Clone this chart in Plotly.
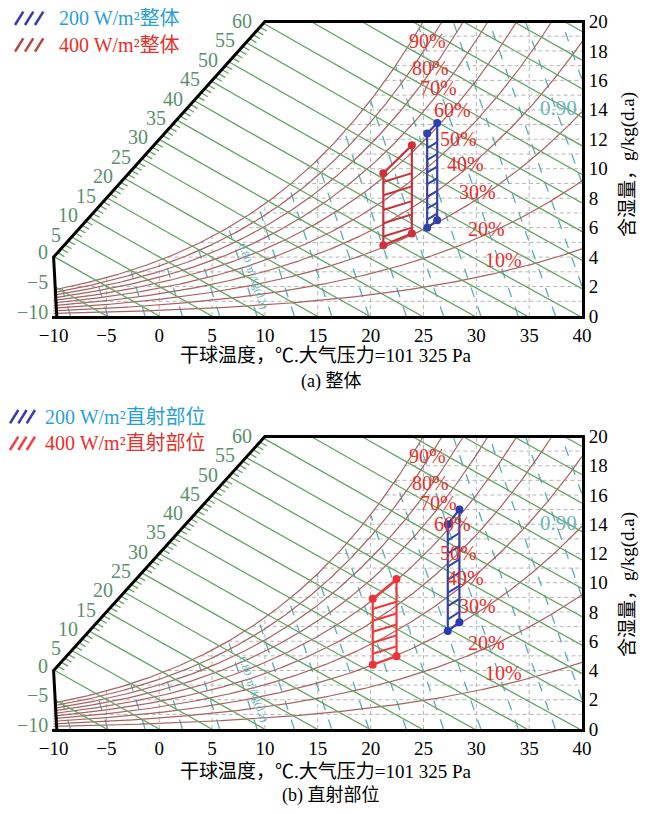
import numpy as np
import plotly.graph_objects as go

P_ATM = 101325.0

# ---------------- data ----------------
x_tick_vals = [-10, -5, 0, 5, 10, 15, 20, 25, 30, 35, 40]
x_tick_text = ["−10", "−5", "0", "5", "10", "15", "20", "25", "30", "35", "40"]
y_tick_vals = [0, 2, 4, 6, 8, 10, 12, 14, 16, 18, 20]

rh_levels = [0.1, 0.2, 0.3, 0.4, 0.5, 0.6, 0.7, 0.8, 0.9, 1.0]
rh_label_text = ["10%", "20%", "30%", "40%", "50%", "60%", "70%", "80%", "90%"]
rh_label_t = [32.6, 31.0, 30.1, 29.0, 28.3, 27.7, 26.4, 25.7, 25.35]
rh_label_w = [3.8, 5.9, 8.4, 10.3, 12.0, 14.0, 15.45, 16.85, 18.65]

enthalpy_levels = [-10, -5, 0, 5, 10, 15, 20, 25, 30, 35, 40, 45, 50, 55, 60,
                   65, 70, 75, 80, 85, 90]
enthalpy_label_levels = [-10, -5, 0, 5, 10, 15, 20, 25, 30, 35, 40, 45, 50, 55, 60]
enthalpy_minor_levels = list(range(0, 61))

volume_levels = [0.75, 0.76, 0.77, 0.78, 0.79, 0.80, 0.81, 0.82, 0.83, 0.84,
                 0.85, 0.86, 0.87, 0.88, 0.89, 0.90, 0.91]
volume_label_text = ["0.80 m³/kg(d.a)", "0.90"]
volume_label_t = [8.9, 37.8]
volume_label_w = [2.7, 14.1]

grid_t_levels = [-5, 0, 5, 10, 15, 20, 25, 30, 35]
grid_w_levels = [1, 2, 3, 4, 5, 6, 7, 8, 9, 10, 11, 12, 13, 14, 15, 16, 17, 18, 19]

boundary_t = [-9.7, -10, 10, 40]
boundary_w = [0, 4, 20, 20]

# panel (a) 整体
a_red_t = [21.2, 23.9, 23.9, 21.2]
a_red_w = [4.8, 5.6, 11.6, 9.7]
a_red_hatch_l = [5.4, 6.3, 7.2, 8.2, 9.1]
a_red_hatch_r = [6.0, 6.9, 7.8, 8.8, 9.7]
a_blue_t = [25.35, 26.3, 26.3, 25.35]
a_blue_w = [6.0, 6.5, 13.1, 12.4]
a_blue_hatch_l = [6.55, 7.3, 8.1, 8.95, 9.75, 10.6, 11.4]
a_blue_hatch_r = [6.95, 7.7, 8.5, 9.35, 10.15, 11.0, 11.8]

# panel (b) 直射部位
b_red_t = [20.2, 22.45, 22.45, 20.2]
b_red_w = [4.4, 4.97, 10.25, 8.9]
b_red_hatch_l = [5.15, 5.9, 6.65, 7.4, 8.2]
b_red_hatch_r = [5.65, 6.4, 7.15, 7.9, 8.7]
b_blue_t = [27.3, 28.4, 28.4, 27.3]
b_blue_w = [6.7, 7.3, 15.0, 14.0]
b_blue_hatch_l = [7.5, 8.4, 9.3, 10.2, 11.1, 12.0, 12.9]
b_blue_hatch_r = [8.0, 8.9, 9.8, 10.7, 11.6, 12.5, 13.4]

legend_a = ["200 W/m²整体", "400 W/m²整体"]
legend_b = ["200 W/m²直射部位", "400 W/m²直射部位"]
xtitle = "干球温度，℃.大气压力=101 325 Pa"
ytitle = "含湿量，g/kg(d.a)"
caption_a = "(a) 整体"
caption_b = "(b) 直射部位"

# ---------------- styles ----------------
SERIF = "Liberation Serif, Times New Roman, Noto Sans CJK SC, serif"
GREEN = "#66a266"
BROWN = "#a86262"
TEAL = "#5aaeb2"
GRID = "#b5b5b5"
LBLGREEN = "#5b8f6e"
RHRED = "#e8302a"
BLUE_TXT = "#2a9fd6"

# ---------------- psychrometrics ----------------
def psat(t):
    return 611.2 * np.exp(17.62 * t / (243.12 + t))

def w_rh(t, rh):
    pw = rh * psat(t)
    return 622.0 * pw / (P_ATM - pw)

def t_of_h(h, w):
    return (h - 2.501 * w) / (1.006 + 0.00186 * w)

def w_of_h(h, t):
    return (h - 1.006 * t) / (2.501 + 0.00186 * t)

def diag_w(t):
    return 12.0 + 0.8 * t

def diag_cross(h):
    lo, hi = 0.0, 40.0
    for _ in range(80):
        mid = 0.5 * (lo + hi)
        if mid - diag_w(t_of_h(h, mid)) < 0:
            lo = mid
        else:
            hi = mid
    return 0.5 * (lo + hi)

t_fine = np.linspace(-10, 40, 1001)
wsat_fine = w_rh(t_fine, 1.0)

def t_sat(w):
    return float(np.interp(w, wsat_fine, t_fine))

def join(segs):
    xs, ys = [], []
    for sx, sy in segs:
        xs += list(sx) + [None]
        ys += list(sy) + [None]
    return xs, ys

# ---------------- figure geometry ----------------
# The page body adds an 8px margin, so the figure is drawn 8px smaller on
# every side and all reference-pixel positions are offset by 8px.
OFF = 8
W_PX, H_PX = 654 - 2 * OFF, 814 - 2 * OFF
PLOT_L, PLOT_R, PLOT_T, PLOT_B = 52, 582, 20, 729   # reference pixels
ML = PLOT_L - OFF
MR = W_PX - (PLOT_R - OFF)
MT = PLOT_T - OFF
MB = H_PX - (PLOT_B - OFF)
PW = PLOT_R - PLOT_L
PH = PLOT_B - PLOT_T

def px(xp):
    return (xp - PLOT_L) / PW

def py(yp):
    return (PLOT_B - yp) / PH

fig = go.Figure()
annotations = []
shapes = []

def panel(xa, ya, red, blue, red_edge, blue_col, red_mk, blue_mk):
    xr = "x" if xa == "xaxis" else "x2"
    yr = "y" if ya == "yaxis" else "y2"

    segs = []
    for t in grid_t_levels:
        segs.append(([t, t], [0, min(20.0, float(w_rh(t, 1.0)))]))
    for w in grid_w_levels:
        segs.append(([t_sat(w), 40], [w, w]))
    gx, gy = join(segs)
    fig.add_trace(go.Scatter(x=gx, y=gy, mode="lines", xaxis=xr, yaxis=yr,
                             line=dict(color=GRID, width=1, dash="4px,3px"),
                             hoverinfo="skip", showlegend=False))
    segs = []
    wv = np.linspace(0, 20, 400)
    for v in volume_levels:
        tv = v * P_ATM / (287.042 * (1 + 1.6078 * wv / 1000.0)) - 273.15
        m = (tv <= 40) & (tv >= -10) & (wv <= w_rh(tv, 1.0))
        if m.sum() > 1:
            segs.append((tv[m], wv[m]))
    vx, vy = join(segs)
    fig.add_trace(go.Scatter(x=vx, y=vy, mode="lines", xaxis=xr, yaxis=yr,
                             line=dict(color=TEAL, width=1.3, dash="10px,10px"),
                             hoverinfo="skip", showlegend=False))
    segs = []
    for rh in rh_levels:
        wfull = w_rh(t_fine, rh)
        tend = float(np.interp(20, wfull, t_fine)) if wfull[-1] > 20 else 40.0
        tt = np.linspace(-10, tend, 300)
        segs.append((tt, w_rh(tt, rh)))
    rx, ry = join(segs)
    fig.add_trace(go.Scatter(x=rx, y=ry, mode="lines", xaxis=xr, yaxis=yr,
                             line=dict(color=BROWN, width=1.2),
                             hoverinfo="skip", showlegend=False))
    segs = []
    for h in enthalpy_levels:
        w_lo = 0.0 if t_of_h(h, 0) <= 40 else w_of_h(h, 40)
        w_hi = min(20.0, w_of_h(h, -10), diag_cross(h))
        ww = np.linspace(w_lo, w_hi, 12)
        segs.append((t_of_h(h, ww), ww))
    for h in enthalpy_minor_levels:
        if h % 5 == 0:
            continue
        wb = diag_cross(h)
        tb = t_of_h(h, wb)
        segs.append(([tb, tb + 0.65], [wb, w_of_h(h, tb + 0.65)]))
    ex, ey = join(segs)
    fig.add_trace(go.Scatter(x=ex, y=ey, mode="lines", xaxis=xr, yaxis=yr,
                             line=dict(color=GREEN, width=1.3),
                             hoverinfo="skip", showlegend=False))
    fig.add_trace(go.Scatter(x=boundary_t, y=boundary_w, mode="lines", xaxis=xr, yaxis=yr,
                             line=dict(color="black", width=3),
                             hoverinfo="skip", showlegend=False))
    for h in enthalpy_label_levels:
        if h <= 0:
            tb, wb = -10.0, float(w_of_h(h, -10))
            xs, ys = -4, 4
        else:
            wb = diag_cross(h)
            tb = float(t_of_h(h, wb))
            xs, ys = -9, 2
        annotations.append(dict(x=tb, y=wb, xref=xr, yref=yr, text=str(h).replace("-", "−"),
                                showarrow=False, xanchor="right", yanchor="middle",
                                xshift=xs, yshift=ys,
                                font=dict(family=SERIF, size=20, color=LBLGREEN)))
    for txt, t, w in zip(rh_label_text, rh_label_t, rh_label_w):
        annotations.append(dict(x=t, y=w, xref=xr, yref=yr, text=txt, showarrow=False,
                                xanchor="center", yanchor="middle",
                                font=dict(family=SERIF, size=20, color=RHRED)))
    annotations.append(dict(x=volume_label_t[0], y=volume_label_w[0], xref=xr, yref=yr,
                            text=volume_label_text[0], showarrow=False, textangle=71,
                            xanchor="center", yanchor="middle",
                            font=dict(family=SERIF, size=11, color=TEAL)))
    annotations.append(dict(x=volume_label_t[1], y=volume_label_w[1], xref=xr, yref=yr,
                            text=volume_label_text[1], showarrow=False,
                            xanchor="center", yanchor="middle",
                            font=dict(family=SERIF, size=21, color="#6ab6b8")))
    for (pt, pw_, hl, hr), col, mk in ((red, red_edge, red_mk), (blue, blue_col, blue_mk)):
        hx, hy = join([([pt[0], pt[1]], [a, b]) for a, b in zip(hl, hr)])
        fig.add_trace(go.Scatter(x=hx, y=hy, mode="lines", xaxis=xr, yaxis=yr,
                                 line=dict(color=col, width=2),
                                 hoverinfo="skip", showlegend=False))
        fig.add_trace(go.Scatter(x=pt + [pt[0]], y=pw_ + [pw_[0]], mode="lines", xaxis=xr, yaxis=yr,
                                 line=dict(color=col, width=2.2),
                                 hoverinfo="skip", showlegend=False))
        fig.add_trace(go.Scatter(x=pt, y=pw_, mode="markers", xaxis=xr, yaxis=yr,
                                 marker=dict(color=mk, size=8),
                                 hoverinfo="skip", showlegend=False))

panel("xaxis", "yaxis",
      (a_red_t, a_red_w, a_red_hatch_l, a_red_hatch_r),
      (a_blue_t, a_blue_w, a_blue_hatch_l, a_blue_hatch_r),
      "#c8323a", "#3442a8", "#d0303a", "#3040b0")
panel("xaxis2", "yaxis2",
      (b_red_t, b_red_w, b_red_hatch_l, b_red_hatch_r),
      (b_blue_t, b_blue_w, b_blue_hatch_l, b_blue_hatch_r),
      "#f03a3a", "#3442a8", "#f0303a", "#2a3ab0")

def legend_row(x0s, ytop, ybot, dx, col, text, tx, ty, tcol):
    for x0 in x0s:
        shapes.append(dict(type="line", xref="paper", yref="paper",
                           x0=px(x0), y0=py(ybot), x1=px(x0 + dx), y1=py(ytop),
                           line=dict(color=col, width=2.5)))
    annotations.append(dict(x=px(tx), y=py(ty), xref="paper", yref="paper", text=text,
                            showarrow=False, xanchor="left", yanchor="middle",
                            font=dict(family=SERIF, size=20, color=tcol)))

legend_row([15, 25, 35], 11.7, 25, 8.3, "#3a3aa8", legend_a[0], 57, 18, BLUE_TXT)
legend_row([15, 25, 35], 38.3, 51.7, 8.3, "#b84444", legend_a[1], 57, 45, RHRED)
legend_row([10, 18.3, 26.7], 410, 423.3, 8.3, "#3a3aa8", legend_b[0], 43, 417, BLUE_TXT)
legend_row([10, 18.3, 26.7], 436.7, 450, 8.3, "#f04040", legend_b[1], 43, 443, RHRED)

for cy, ty, cap in ((355, 381, caption_a), (772, 795, caption_b)):
    annotations.append(dict(x=px(326), y=py(cy), xref="paper", yref="paper", text=xtitle,
                            showarrow=False, xanchor="center", yanchor="middle",
                            font=dict(family=SERIF, size=19, color="black")))
    annotations.append(dict(x=px(331), y=py(ty), xref="paper", yref="paper", text=cap,
                            showarrow=False, xanchor="center", yanchor="middle",
                            font=dict(family=SERIF, size=18, color="black")))
for cy in (165, 585):
    annotations.append(dict(x=px(628), y=py(cy), xref="paper", yref="paper", text=ytitle,
                            showarrow=False, textangle=-90, xanchor="center", yanchor="middle",
                            font=dict(family=SERIF, size=19, color="black")))

xcommon = dict(range=[-10.15, 40], tickvals=x_tick_vals, ticktext=x_tick_text, ticks="",
               showgrid=False, zeroline=False, showline=True, linecolor="black", linewidth=3,
               automargin=False,
               tickfont=dict(family=SERIF, size=19, color="black"))
ycommon = dict(range=[0, 20.1], tickvals=y_tick_vals, ticks="", side="right",
               showgrid=False, zeroline=False, showline=True, linecolor="black", linewidth=3,
               automargin=False,
               tickfont=dict(family=SERIF, size=19, color="black"))

fig.update_layout(
    width=W_PX, height=H_PX,
    margin=dict(l=ML, r=MR, t=MT, b=MB, autoexpand=False),
    paper_bgcolor="white", plot_bgcolor="white",
    showlegend=False,
    xaxis=dict(domain=[0, 1], anchor="y", **xcommon),
    yaxis=dict(domain=[py(316), 1], anchor="x", **ycommon),
    xaxis2=dict(domain=[0, 1], anchor="y2", **xcommon),
    yaxis2=dict(domain=[0, py(435)], anchor="x2", **ycommon),
    annotations=annotations,
    shapes=shapes,
)

fig.write_html("out.html")
